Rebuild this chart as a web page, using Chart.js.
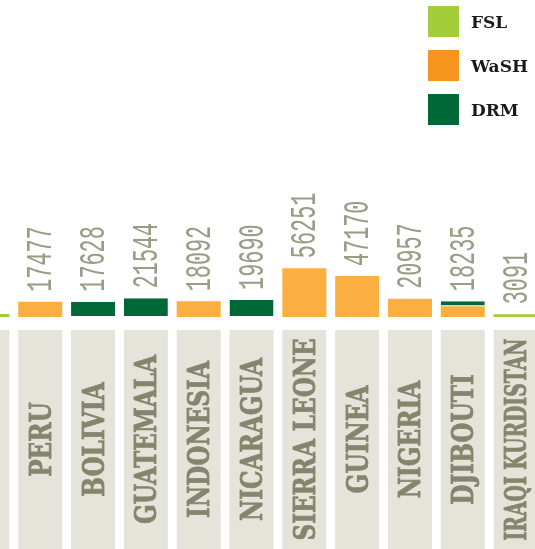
<!DOCTYPE html>
<html>
<head>
<meta charset="utf-8">
<script src="https://cdn.jsdelivr.net/npm/chart.js@4"></script>
<style>
    html, body { margin: 0; padding: 0; background: #fff; overflow: hidden; }
    #wrap { position: relative; width: 535px; height: 549px; overflow: hidden; }
    #myBarChart { position: absolute; left: -39px; top: 0; }
    #legend { position: absolute; left: 428px; top: 6px; font-family: "DejaVu Serif", serif; font-weight: bold; font-size: 17px; color: #1a1a1a; }
    .item { display: flex; align-items: center; height: 31px; margin-bottom: 13px; }
    .box { width: 31px; height: 31px; margin-right: 12px; }
</style>
</head>
<body>
<div id="wrap">
    <canvas id="myBarChart" width="581" height="549"></canvas>
    <div id="legend"></div>
</div>
<script>
// Datos del gráfico (la primera categoría está cortada en el borde izquierdo)
var paises = ['', 'PERU', 'BOLIVIA', 'GUATEMALA', 'INDONESIA', 'NICARAGUA', 'SIERRA LEONE', 'GUINEA', 'NIGERIA', 'DJIBOUTI', 'IRAQI KURDISTAN'];
var fsl  = [3400, null, null, null, null, null, null, null, null, null, 3091];
var wash = [null, 17477, null, null, 18092, null, 56251, 47170, 20957, 12400, null];
var drm  = [null, null, 17628, 21544, null, 19690, null, null, null, 5835, null];

var colores = { fsl: '#a2cb3b', wash: '#fbaf41', drm: '#006837' };
var coloresLeyenda = { fsl: '#a3cd39', wash: '#f7941e', drm: '#006837' };

// Plugin para dibujar los totales y las cajas con los nombres
var etiquetasPlugin = {
    id: 'etiquetas',
    afterDatasetsDraw: function(chart) {
        var ctx = chart.ctx;
        var x = chart.scales.x;
        var y = chart.scales.y;
        var area = chart.chartArea;

        chart.data.labels.forEach(function(nombre, i) {
            var total = 0;
            chart.data.datasets.forEach(function(ds) { total += ds.data[i] || 0; });
            var cx = x.getPixelForValue(i);
            var ancho = 52.8 * 0.833;

            // Total encima de la barra
            if (total > 0) {
                var top = y.getPixelForValue(total);
                ctx.save();
                ctx.fillStyle = '#9c9b86';
                ctx.font = '37px "Liberation Mono"';
                ctx.textAlign = 'left';
                ctx.textBaseline = 'alphabetic';
                ctx.translate(cx + 11, top - 10);
                ctx.rotate(-Math.PI / 2);
                ctx.scale(0.59, 1);
                ctx.fillText(String(total), 0, 0);
                ctx.restore();
            }

            // Caja del país
            var y0 = area.bottom + 13;
            var y1 = chart.height;
            ctx.save();
            ctx.fillStyle = '#e6e4da';
            ctx.fillRect(cx - ancho / 2, y0, ancho, y1 - y0);
            ctx.fillStyle = '#85846c';
            ctx.strokeStyle = '#85846c';
            ctx.lineWidth = 0.8;
            ctx.font = 'bold 29px "DejaVu Serif"';
            ctx.textAlign = 'center';
            ctx.textBaseline = 'alphabetic';
            var w = ctx.measureText(nombre).width;
            var s = Math.min(0.8, 202 / (w || 1));
            ctx.translate(cx + 10.5, (y0 + y1) / 2);
            ctx.rotate(-Math.PI / 2);
            ctx.scale(s, 1);
            ctx.fillText(nombre, 0, 0);
            ctx.strokeText(nombre, 0, 0);
            ctx.restore();
        });
    }
};

window.onload = function() {
    var barCtx = document.getElementById('myBarChart').getContext('2d');
    var myBarChart = new Chart(barCtx, {
        type: 'bar',
        data: {
            labels: paises,
            datasets: [{
                label: 'FSL',
                data: fsl,
                backgroundColor: colores.fsl
            }, {
                label: 'WaSH',
                data: wash,
                backgroundColor: colores.wash
            }, {
                label: 'DRM',
                data: drm,
                backgroundColor: colores.drm,
                borderColor: '#ffffff',
                borderWidth: { top: 0, left: 0, right: 0, bottom: 1 },
                borderSkipped: false
            }]
        },
        options: {
            responsive: false,
            animation: false,
            devicePixelRatio: 1,
            categoryPercentage: 0.833,
            barPercentage: 1,
            layout: { padding: { top: 0, left: 0, right: 0, bottom: 232 } },
            plugins: {
                legend: { display: false },
                tooltip: { enabled: false }
            },
            scales: {
                x: { stacked: true, display: false },
                y: { stacked: true, display: false, min: 0, max: 365000 }
            }
        },
        plugins: [etiquetasPlugin]
    });

    // Leyenda en HTML
    var leyenda = document.getElementById('legend');
    var claves = ['fsl', 'wash', 'drm'];
    myBarChart.data.datasets.forEach(function(ds, i) {
        var item = document.createElement('div');
        item.className = 'item';
        item.innerHTML = '<div class="box" style="background:' + coloresLeyenda[claves[i]] + '"></div>' + ds.label;
        leyenda.appendChild(item);
    });
};
</script>
</body>
</html>
